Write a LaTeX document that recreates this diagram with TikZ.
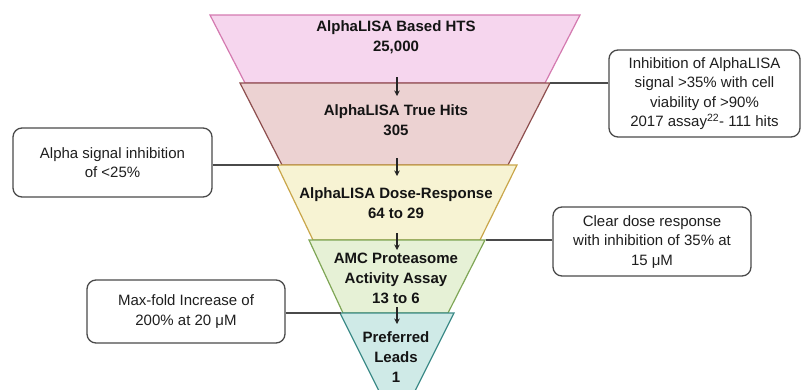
\documentclass[tikz,border=0pt]{standalone}
\usepackage{fontspec}
\setmainfont{Liberation Sans}
\usetikzlibrary{arrows.meta}
\definecolor{pinkF}{HTML}{F6D6EE}\definecolor{pinkD}{HTML}{D47AB0}
\definecolor{rosyF}{HTML}{ECD2D2}\definecolor{rosyD}{HTML}{8E4F4F}
\definecolor{yelF}{HTML}{F7F3D3}\definecolor{yelD}{HTML}{C9A64A}
\definecolor{grnF}{HTML}{E6F1D6}\definecolor{grnD}{HTML}{7FA656}
\definecolor{tealF}{HTML}{CFEAE7}\definecolor{tealD}{HTML}{3E8C89}
\definecolor{lineC}{HTML}{4A4A4A}
\tikzset{
  level/.style={line width=1.2pt, line join=miter},
  lvltext/.style={align=center, font=\fontsize{15}{20}\selectfont\bfseries, text=black!92},
  infobox/.style={draw=lineC, line width=1.3pt, rounded corners=9pt, fill=white, align=center,
     font=\fontsize{15}{19.5}\selectfont, text=black!88, inner sep=0pt},
  link/.style={draw=lineC, line width=1.2pt},
  flow/.style={draw=black!85, line width=1.1pt, -{Stealth[length=5.5pt,width=5.5pt]}}
}
\begin{document}
\begin{tikzpicture}[x=1pt,y=-1pt]
\useasboundingbox (0,0) rectangle (807,389);
\clip (0,0) rectangle (807,389);
% funnel levels
\coordinate (t1a) at (210,15); \coordinate (t1b) at (580,15);
\coordinate (t1c) at (545,83); \coordinate (t1d) at (245,83);
\coordinate (t2a) at (240,83); \coordinate (t2b) at (550,83);
\coordinate (t2c) at (508,165); \coordinate (t2d) at (282,165);
\coordinate (t3a) at (277,165); \coordinate (t3b) at (517,165);
\coordinate (t3c) at (480,240); \coordinate (t3d) at (313,240);
\coordinate (t4a) at (309,240); \coordinate (t4b) at (485,240);
\coordinate (t4c) at (448,313); \coordinate (t4d) at (343,313);
\coordinate (t5a) at (340,313); \coordinate (t5b) at (454,313);
\coordinate (t5c) at (397,427);
\filldraw[level, fill=pinkF, draw=pinkD] (t1a) -- (t1b) -- (t1c) -- (t1d) -- cycle;
\filldraw[level, fill=rosyF, draw=rosyD] (t2a) -- (t2b) -- (t2c) -- (t2d) -- cycle;
\filldraw[level, fill=yelF, draw=yelD] (t3a) -- (t3b) -- (t3c) -- (t3d) -- cycle;
\filldraw[level, fill=grnF, draw=grnD] (t4a) -- (t4b) -- (t4c) -- (t4d) -- cycle;
\filldraw[level, fill=tealF, draw=tealD] (t5a) -- (t5b) -- (t5c) -- cycle;
% level labels
\node[lvltext] (l1) at (396,37.5) {AlphaLISA Based HTS\\25,000};
\node[lvltext] (l2) at (396,120) {AlphaLISA True Hits\\305};
\node[lvltext] (l3) at (396,203) {AlphaLISA Dose-Response\\64 to 29};
\node[lvltext] (l4) at (396,278) {AMC Proteasome\\Activity Assay\\13 to 6};
\node[lvltext] (l5) at (396,357) {Preferred\\Leads\\1};
% flow arrows
\coordinate (a1s) at (397,77); \coordinate (a1e) at (397,96);
\coordinate (a2s) at (397,158); \coordinate (a2e) at (397,176);
\coordinate (a3s) at (397,233); \coordinate (a3e) at (397,250);
\coordinate (a4s) at (397,307); \coordinate (a4e) at (397,324);
\draw[flow] (a1s) -- (a1e);
\draw[flow] (a2s) -- (a2e);
\draw[flow] (a3s) -- (a3e);
\draw[flow] (a4s) -- (a4e);
% info boxes
\node[infobox, minimum width=191pt, minimum height=87pt] (bA) at (704.5,93.5)
  {Inhibition of AlphaLISA\\signal >35\% with cell\\viability of >90\%\\2017 assay\textsuperscript{22}- 111 hits};
\node[infobox, minimum width=199pt, minimum height=69pt] (bB) at (112.5,162.5)
  {Alpha signal inhibition\\of <25\%};
\node[infobox, minimum width=198pt, minimum height=69pt] (bC) at (652,241.5)
  {Clear dose response\\with inhibition of 35\% at\\15 μM};
\node[infobox, minimum width=198pt, minimum height=63pt] (bD) at (186,311.5)
  {Max-fold Increase of\\200\% at 20 μM};
% connectors
\coordinate (cA) at (550,83);
\coordinate (cB) at (279,165);
\coordinate (cC) at (486,240);
\coordinate (cD) at (341,313);
\draw[link] (bA.west |- cA) -- (cA);
\draw[link] (bB.east |- cB) -- (cB);
\draw[link] (bC.west |- cC) -- (cC);
\draw[link] (bD.east |- cD) -- (cD);
\end{tikzpicture}
\end{document}
